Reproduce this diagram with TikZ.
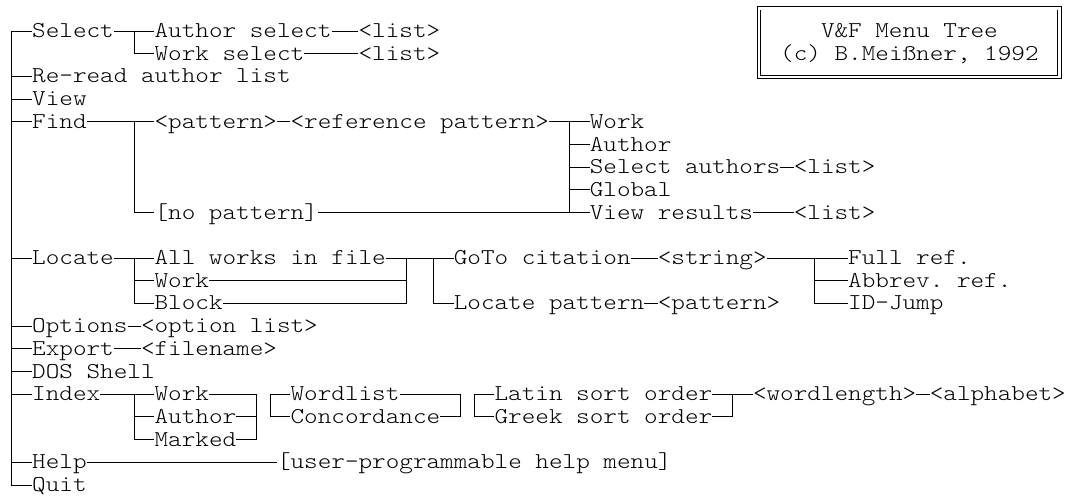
\documentclass[tikz,border=0pt]{standalone}
\usepackage{fontspec}
\newfontfamily\menufont[FakeStretch=1.143]{lmmonolt10-regular.otf}
\frenchspacing
\tikzset{
  item/.style={anchor=west, inner sep=0pt, text height=13pt, text depth=0pt},
  tree/.style={black, line width=0.9pt},
}
\begin{document}
\begin{tikzpicture}[x=13.6pt, y=-22.7pt, font=\menufont\fontsize{22.67}{22.7}\selectfont]
\useasboundingbox (-0.353,-1.366) rectangle (78.324,20.441);

% main menu
\node[item] (sel) at (2,0) {Select};
\node[item] (reread) at (2,2) {Re-read author list};
\node[item] (view) at (2,3) {View};
\node[item] (find) at (2,4) {Find};
\node[item] (loc) at (2,10) {Locate};
\node[item] (opt) at (2,13) {Options};
\node[item] (exp) at (2,14) {Export};
\node[item] (dos) at (2,15) {DOS Shell};
\node[item] (idx) at (2,16) {Index};
\node[item] (help) at (2,19) {Help};
\node[item] (quit) at (2,20) {Quit};

\coordinate (trunk) at (0.5,0);
\draw[tree] (sel.west) -- (sel.west -| trunk) -- (quit.west -| trunk) -- (quit.west); % trunk
\foreach \n in {reread,view,find,loc,opt,exp,dos,idx,help}
  \draw[tree] (\n.west -| trunk) -- (\n.west);

% select
\node[item] (authsel) at (11,0) {Author select};
\node[item] (worksel) at (11,1) {Work select};
\node[item] (list1) at (26,0) {<list>};
\node[item] (list2) at (26,1) {<list>};
\coordinate (selj) at (9.5,0);
\draw[tree] (sel.east) -- (authsel.west);
\draw[tree] (selj) |- (worksel.west);
\draw[tree] (authsel.east) -- (list1.west);
\draw[tree] (worksel.east) -- (list2.west);

% find
\node[item] (pat) at (11,4) {<pattern>};
\node[item] (refpat) at (21,4) {<reference pattern>};
\node[item] (nopat) at (11,8) {[no pattern]};
\node[item] (fwork) at (43,4) {Work};
\node[item] (fauth) at (43,5) {Author};
\node[item] (fsel) at (43,6) {Select authors};
\node[item] (fglob) at (43,7) {Global};
\node[item] (fview) at (43,8) {View results};
\node[item] (list3) at (58,6) {<list>};
\node[item] (list4) at (58,8) {<list>};
\coordinate (findj) at (9.5,4);
\coordinate (refj) at (41.5,4);
\draw[tree] (find.east) -- (pat.west);
\draw[tree] (findj) |- (nopat.west);
\draw[tree] (pat.east) -- (refpat.west);
\draw[tree] (refpat.east) -- (fwork.west);
\draw[tree] (refj) -- (refj |- fview.west);
\foreach \n in {fauth,fsel,fglob}
  \draw[tree] (\n.west -| refj) -- (\n.west);
\draw[tree] (nopat.east) -- (fview.west);
\draw[tree] (fsel.east) -- (list3.west);
\draw[tree] (fview.east) -- (list4.west);

% locate
\node[item] (allw) at (11,10) {All works in file};
\node[item] (lwork) at (11,11) {Work};
\node[item] (lblock) at (11,12) {Block};
\node[item] (goto) at (33,10) {GoTo citation};
\node[item] (locpat) at (33,12) {Locate pattern};
\node[item] (str) at (48,10) {<string>};
\node[item] (pat2) at (48,12) {<pattern>};
\node[item] (full) at (62,10) {Full ref.};
\node[item] (abbr) at (62,11) {Abbrev. ref.};
\node[item] (idj) at (62,12) {ID-Jump};
\coordinate (locj) at (9.5,10);
\coordinate (blkj) at (29.5,10);
\coordinate (gotoj) at (31.5,10);
\coordinate (strj) at (59.5,10);
\draw[tree] (loc.east) -- (allw.west);
\draw[tree] (locj) |- (lblock.west);
\draw[tree] (lwork.west -| locj) -- (lwork.west);
\draw[tree] (allw.east) -- (goto.west);
\draw[tree] (lwork.east) -- (lwork.east -| blkj);
\draw[tree] (lblock.east) -| (blkj);
\draw[tree] (gotoj) |- (locpat.west);
\draw[tree] (goto.east) -- (str.west);
\draw[tree] (locpat.east) -- (pat2.west);
\draw[tree] (str.east) -- (full.west);
\draw[tree] (strj) |- (idj.west);
\draw[tree] (abbr.west -| strj) -- (abbr.west);

% options, export
\node[item] (optl) at (10,13) {<option list>};
\node[item] (fname) at (10,14) {<filename>};
\draw[tree] (opt.east) -- (optl.west);
\draw[tree] (exp.east) -- (fname.west);

% index
\node[item] (iwork) at (11,16) {Work};
\node[item] (iauth) at (11,17) {Author};
\node[item] (imark) at (11,18) {Marked};
\node[item] (wlist) at (21,16) {Wordlist};
\node[item] (conc) at (21,17) {Concordance};
\node[item] (latin) at (36,16) {Latin sort order};
\node[item] (greek) at (36,17) {Greek sort order};
\node[item] (wlen) at (55,16) {<wordlength>};
\node[item] (alpha) at (68,16) {<alphabet>};
\coordinate (idxj) at (9.5,16);
\coordinate (ij1) at (18.5,16);
\coordinate (ij2) at (19.5,16);
\coordinate (ij3) at (33.5,16);
\coordinate (ij4) at (34.5,16);
\coordinate (ij5) at (53.5,16);
\draw[tree] (idx.east) -- (iwork.west);
\draw[tree] (idxj) |- (imark.west);
\draw[tree] (iauth.west -| idxj) -- (iauth.west);
\draw[tree] (iwork.east) -- (ij1) |- (imark.east);
\draw[tree] (iauth.east) -- (iauth.east -| ij1);
\draw[tree] (wlist.west) -- (ij2) |- (conc.west);
\draw[tree] (wlist.east) -- (ij3) |- (conc.east);
\draw[tree] (latin.west) -- (ij4) |- (greek.west);
\draw[tree] (latin.east) -- (wlen.west);
\draw[tree] (ij5) |- (greek.east);
\draw[tree] (wlen.east) -- (alpha.west);

% help
\node[item] (uhelp) at (20,19) {[user-programmable help menu]};
\draw[tree] (help.east) -- (uhelp.west);

% title box
\node[item] (tt1) at (60,0) {V\&F Menu Tree};
\node[item] (tt2) at (57,1) {(c) B.Meißner, 1992};
\draw[tree, double, double distance=2.5pt] (55.44,-1.0) rectangle (77.54,2.02);
\end{tikzpicture}
\end{document}
